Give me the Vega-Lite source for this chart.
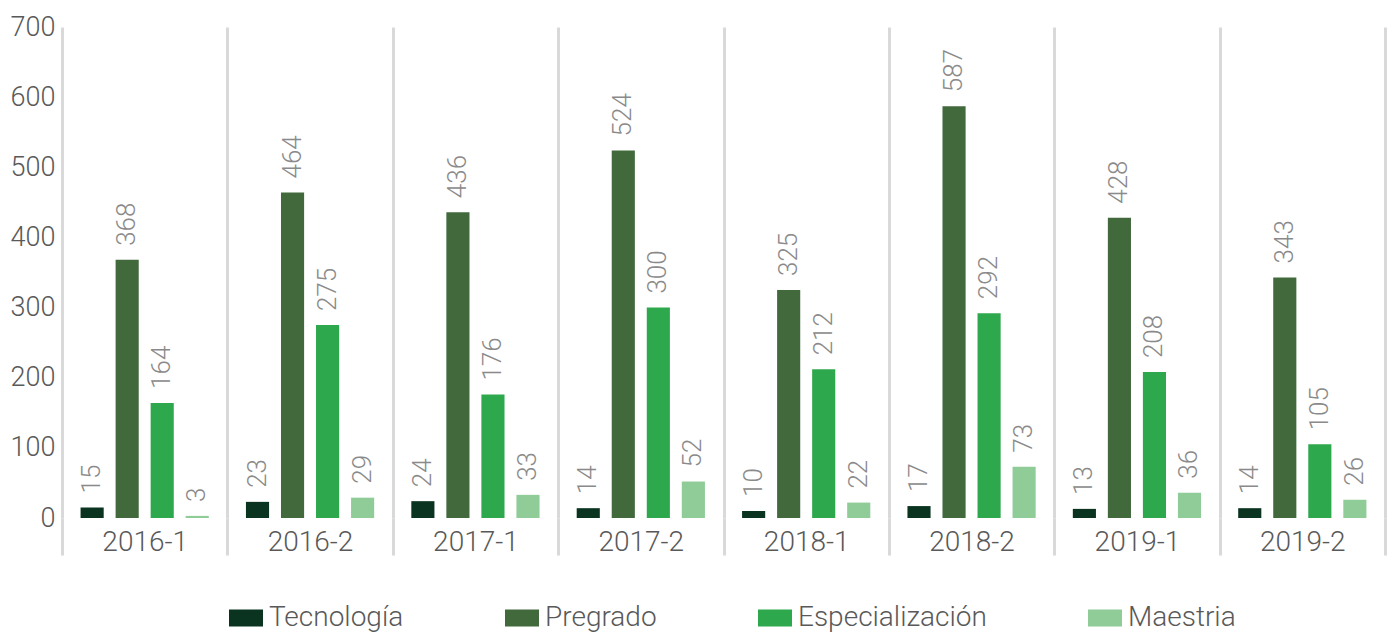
{
  "$schema": "https://vega.github.io/schema/vega-lite/v6.json",
  "width": 1323,
  "height": 491,
  "autosize": {"type": "none"},
  "padding": {"left": 62, "top": 27, "right": 7, "bottom": 119},
  "background": "white",
  "config": {
    "view": {"stroke": null},
    "font": "Roboto"
  },
  "data": {
    "values": [
      {"periodo": "2016-1", "nivel": "Tecnología", "valor": 15},
      {"periodo": "2016-1", "nivel": "Pregrado", "valor": 368},
      {"periodo": "2016-1", "nivel": "Especialización", "valor": 164},
      {"periodo": "2016-1", "nivel": "Maestria", "valor": 3},
      {"periodo": "2016-2", "nivel": "Tecnología", "valor": 23},
      {"periodo": "2016-2", "nivel": "Pregrado", "valor": 464},
      {"periodo": "2016-2", "nivel": "Especialización", "valor": 275},
      {"periodo": "2016-2", "nivel": "Maestria", "valor": 29},
      {"periodo": "2017-1", "nivel": "Tecnología", "valor": 24},
      {"periodo": "2017-1", "nivel": "Pregrado", "valor": 436},
      {"periodo": "2017-1", "nivel": "Especialización", "valor": 176},
      {"periodo": "2017-1", "nivel": "Maestria", "valor": 33},
      {"periodo": "2017-2", "nivel": "Tecnología", "valor": 14},
      {"periodo": "2017-2", "nivel": "Pregrado", "valor": 524},
      {"periodo": "2017-2", "nivel": "Especialización", "valor": 300},
      {"periodo": "2017-2", "nivel": "Maestria", "valor": 52},
      {"periodo": "2018-1", "nivel": "Tecnología", "valor": 10},
      {"periodo": "2018-1", "nivel": "Pregrado", "valor": 325},
      {"periodo": "2018-1", "nivel": "Especialización", "valor": 212},
      {"periodo": "2018-1", "nivel": "Maestria", "valor": 22},
      {"periodo": "2018-2", "nivel": "Tecnología", "valor": 17},
      {"periodo": "2018-2", "nivel": "Pregrado", "valor": 587},
      {"periodo": "2018-2", "nivel": "Especialización", "valor": 292},
      {"periodo": "2018-2", "nivel": "Maestria", "valor": 73},
      {"periodo": "2019-1", "nivel": "Tecnología", "valor": 13},
      {"periodo": "2019-1", "nivel": "Pregrado", "valor": 428},
      {"periodo": "2019-1", "nivel": "Especialización", "valor": 208},
      {"periodo": "2019-1", "nivel": "Maestria", "valor": 36},
      {"periodo": "2019-2", "nivel": "Tecnología", "valor": 14},
      {"periodo": "2019-2", "nivel": "Pregrado", "valor": 343},
      {"periodo": "2019-2", "nivel": "Especialización", "valor": 105},
      {"periodo": "2019-2", "nivel": "Maestria", "valor": 26}
    ]
  },
  "encoding": {
    "x": {
      "field": "periodo",
      "type": "nominal",
      "sort": null,
      "scale": {"paddingInner": 0, "paddingOuter": 0},
      "axis": {
        "title": null,
        "labelAngle": 0,
        "domain": false,
        "grid": true,
        "gridColor": "#d9d9d9",
        "gridWidth": 3,
        "tickBand": "extent",
        "ticks": true,
        "tickSize": 37,
        "tickWidth": 3,
        "tickColor": "#d9d9d9",
        "labelPadding": -27,
        "labelBaseline": "top",
        "labelFontSize": 28,
        "labelColor": "#595959",
        "labelFont": "Roboto",
        "labelFontWeight": 300
      }
    },
    "xOffset": {
      "field": "nivel",
      "type": "nominal",
      "sort": ["Tecnología", "Pregrado", "Especialización", "Maestria"],
      "scale": {"paddingInner": 0.34, "paddingOuter": 0.53}
    },
    "y": {
      "field": "valor",
      "type": "quantitative",
      "scale": {"domain": [0, 700], "nice": false},
      "axis": {
        "title": null,
        "values": [0, 100, 200, 300, 400, 500, 600, 700],
        "domain": false,
        "ticks": false,
        "grid": false,
        "labelPadding": 7,
        "labelFontSize": 27,
        "labelColor": "#595959",
        "labelFont": "Roboto",
        "labelFontWeight": 300
      }
    }
  },
  "layer": [
    {
      "mark": {"type": "bar"},
      "encoding": {
        "color": {
          "field": "nivel",
          "type": "nominal",
          "sort": ["Tecnología", "Pregrado", "Especialización", "Maestria"],
          "scale": {
            "domain": ["Tecnología", "Pregrado", "Especialización", "Maestria"],
            "range": ["#0a3420", "#41693c", "#2ea84d", "#8fcc98"]
          },
          "legend": {
            "title": null,
            "orient": "none",
            "direction": "horizontal",
            "legendX": 167,
            "legendY": 574,
            "symbolType": "M-1,-0.5H1V0.5H-1Z",
            "symbolSize": 1156,
            "symbolStrokeWidth": 0,
            "symbolOpacity": 1,
            "labelFontSize": 28,
            "labelColor": "#595959",
            "labelFont": "Roboto",
            "labelFontWeight": 300,
            "labelLimit": 400,
            "labelOffset": 6,
            "columnPadding": 101
          }
        }
      }
    },
    {
      "mark": {
        "type": "text",
        "angle": 270,
        "align": "left",
        "baseline": "middle",
        "dx": 14,
        "fontSize": 26,
        "fontWeight": 300,
        "color": "#8a8a8a"
      },
      "encoding": {
        "text": {"field": "valor", "type": "quantitative"}
      }
    }
  ]
}
